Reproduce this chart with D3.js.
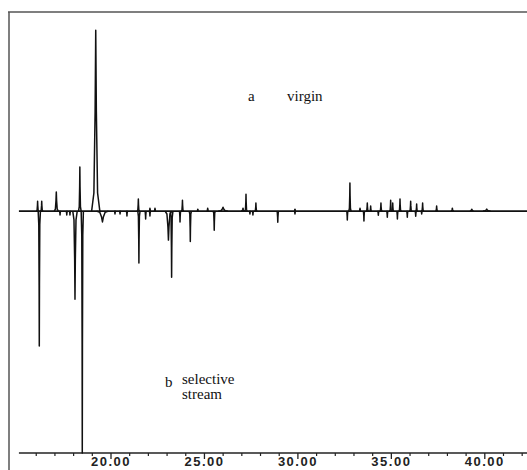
<!DOCTYPE html>
<html><head><meta charset="utf-8">
<script src="https://cdn.jsdelivr.net/npm/d3@7"></script>
<style>html,body{margin:0;padding:0;background:#fff;}svg{display:block;}</style>
</head><body>
<script>
// Retention time (min) of peaks, trace a: virgin (upward)
const virginTimes   = [16.10,16.32,17.10,18.36,19.21,21.49,22.11,22.38,23.85,24.67,25.20,26.02,27.09,27.25,27.78,29.87,32.81,33.35,33.74,33.92,34.47,34.99,35.10,35.49,36.06,36.38,36.70,37.45,38.29,39.33,40.13];
const virginHeights = [4.1,4.1,7.9,18.2,74.8,5.0,1.2,1.2,4.5,0.8,1.2,1.6,1.2,7.0,3.3,0.8,11.6,1.2,3.3,2.1,3.3,4.5,3.3,5.0,4.1,2.9,3.3,2.1,1.2,0.8,0.8];
const virginWidths  = [0.06,0.06,0.11,0.07,0.22,0.06,0.05,0.05,0.06,0.05,0.05,0.25,0.10,0.06,0.06,0.05,0.06,0.05,0.06,0.05,0.06,0.06,0.05,0.06,0.06,0.05,0.06,0.06,0.08,0.10,0.20];
// trace b: selective stream (downward)
const selectiveTimes   = [16.19,17.30,17.66,17.83,18.10,18.49,19.57,20.24,20.51,20.88,21.52,21.88,22.11,23.10,23.27,23.72,24.27,25.55,27.46,27.62,28.95,29.87,32.67,33.56,34.33,34.81,35.35,35.88,36.33,36.65];
const selectiveHeights = [-55.8,-1.6,-1.6,-1.6,-36.4,-100,-4.5,-1.2,-1.2,-2.0,-21.5,-3.3,-2.0,-12.0,-27.3,-4.5,-12.6,-7.9,-1.2,-1.6,-4.6,-1.2,-3.7,-4.1,-1.7,-2.5,-3.3,-2.5,-2.1,-1.2];
const selectiveWidths  = [0.06,0.05,0.05,0.05,0.12,0.06,0.32,0.05,0.05,0.05,0.06,0.05,0.05,0.18,0.07,0.05,0.06,0.06,0.05,0.05,0.06,0.05,0.05,0.05,0.05,0.05,0.05,0.05,0.05,0.05];
// axis
const majorTicks = [20,25,30,35,40];
const tickLabels = ["20.00","25.00","30.00","35.00","40.00"];
const minorTicks = [16,17,18,19,21,22,23,24,26,27,28,29,31,32,33,34,36,37,38,39,41,42];
const timeRange = [15.1, 42.3];

const W = 527, H = 470;
const svg = d3.select("body").append("svg").attr("width", W).attr("height", H);

const x = d3.scaleLinear().domain([20, 40]).range([110.5, 484.3]);
const y = d3.scaleLinear().domain([-100, 82.3]).range([453, 12]);

// frame
svg.append("line").attr("x1", 8).attr("x2", W).attr("y1", 12).attr("y2", 12)
  .attr("stroke", "#555").attr("stroke-width", 1.5);
svg.append("line").attr("x1", 9).attr("x2", 9).attr("y1", 12).attr("y2", H)
  .attr("stroke", "#555").attr("stroke-width", 1.5);

// x axis
const axisG = svg.append("g").attr("transform", `translate(0,${y(-100)})`);
axisG.append("line").attr("x1", x(timeRange[0])).attr("x2", x(timeRange[1]))
  .attr("stroke", "#222").attr("stroke-width", 1.4);
const majorAxis = d3.axisBottom(x).tickValues(majorTicks).tickSize(6)
  .tickFormat((d, i) => tickLabels[i]).tickPadding(0);
axisG.append("g").call(majorAxis).call(g => {
  g.select(".domain").remove();
  g.selectAll(".tick line").attr("stroke", "#222").attr("stroke-width", 1.3);
  g.selectAll(".tick text").attr("fill", "#222")
    .attr("y", 13).attr("dy", "0")
    .style("font-family", "'Liberation Sans', Arial, sans-serif")
    .style("font-size", "13px").style("font-weight", "bold").style("letter-spacing", "1.5px");
});
const minorAxis = d3.axisBottom(x).tickValues(minorTicks).tickSize(3).tickFormat("");
axisG.append("g").call(minorAxis).call(g => {
  g.select(".domain").remove();
  g.selectAll(".tick line").attr("stroke", "#222").attr("stroke-width", 1.2);
});

// baseline
svg.append("line").attr("x1", x(timeRange[0])).attr("x2", x(timeRange[1]))
  .attr("y1", y(0)).attr("y2", y(0)).attr("stroke", "#111").attr("stroke-width", 1.9);

const line = d3.line().x(d => x(d[0])).y(d => y(d[1]));
function peakPoints(t, h, w) {
  return [[t - w, 0], [t - 0.45 * w, 0.1 * h], [t - 0.15 * w, 0.55 * h], [t, h],
          [t + 0.15 * w, 0.55 * h], [t + 0.45 * w, 0.1 * h], [t + w, 0]];
}
function drawTrace(times, heights, widths) {
  svg.append("g").selectAll("path").data(times).join("path")
    .attr("d", (t, i) => line(peakPoints(t, heights[i], widths[i])))
    .attr("fill", "none").attr("stroke", "#111").attr("stroke-width", 1.5)
    .attr("stroke-linejoin", "round");
}
drawTrace(virginTimes, virginHeights, virginWidths);
drawTrace(selectiveTimes, selectiveHeights, selectiveWidths);

// labels
const serif = "'Liberation Serif', 'Times New Roman', serif";
const lab = [["a", 248, 101], ["virgin", 287, 101], ["b", 165, 387], ["selective", 182, 384], ["stream", 182, 399]];
svg.append("g").selectAll("text").data(lab).join("text")
  .attr("x", d => d[1]).attr("y", d => d[2]).text(d => d[0])
  .style("font-family", serif).style("font-size", "15px").attr("fill", "#111");
</script>
</body></html>
